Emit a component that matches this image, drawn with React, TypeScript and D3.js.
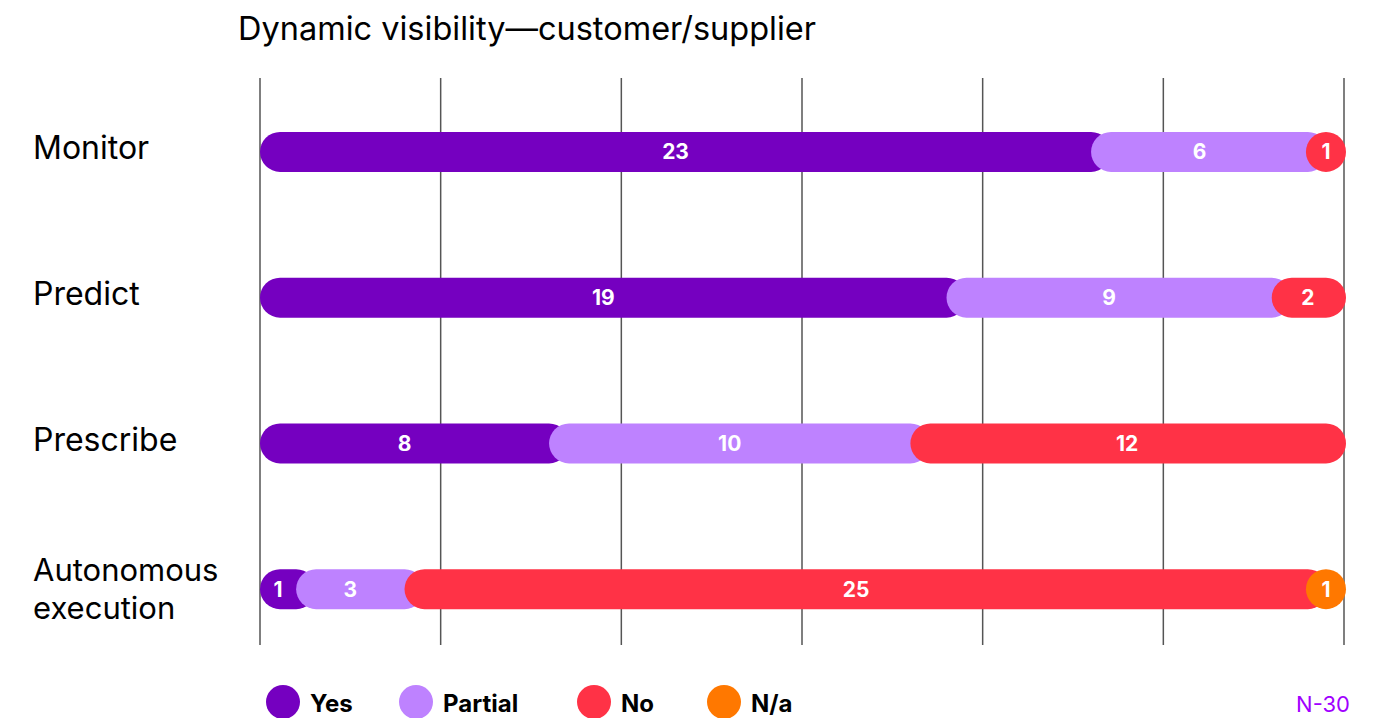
import React from "react";
import * as d3 from "d3";

const categories = ["Monitor", "Predict", "Prescribe", "Autonomous execution"];
const seriesNames = ["Yes", "Partial", "No", "N/a"];
const yesValues = [23, 19, 8, 1];
const partialValues = [6, 9, 10, 3];
const noValues = [1, 2, 12, 25];
const naValues = [0, 0, 0, 1];
const xTicks = [0, 5, 10, 15, 20, 25, 30];
const title = "Dynamic visibility\u2014customer/supplier";
const note = "N-30";

const colors = ["#7500c0", "#be82ff", "#ff3246", "#ff7800"];

const width = 1381;
const height = 718;
const barH = 40;
const r = barH / 2;
const font = "Inter, 'Noto Sans', sans-serif";

export default function App() {
    const x = d3.scaleLinear().domain([0, 30]).range([260, 1344]);
    const y = d3.scaleBand().domain(categories).range([79, 662]);

    const series = [yesValues, partialValues, noValues, naValues];

    const rows = categories.map((cat, i) => {
        let acc = 0;
        const segs = series.map((vals, s) => {
            const v = vals[i];
            const seg = {s, v, x0: x(acc), x1: x(acc + v)};
            acc += v;
            return seg;
        }).filter(d => d.v > 0);
        return {cat, segs};
    });

    const legendX = [283, 416, 594, 724];
    const lineGap = 38;

    return (
        <svg width={width} height={height} style={{position: "absolute", left: 0, top: 0}}>
            <rect width={width} height={height} fill="#fff"/>
            <text x={238} y={40} fontFamily={font} fontSize={32.5} fill="#000">{title}</text>

            {xTicks.map(t => (
                <line key={t} x1={x(t)} x2={x(t)} y1={78} y2={645} stroke="#555" strokeWidth={1.5}/>
            ))}

            {rows.map(row => {
                const cy = (y(row.cat) as number) + y.bandwidth() / 2;
                const lines = row.cat === "Autonomous execution" ? ["Autonomous", "execution"] : [row.cat];
                const ly = lines.length > 1 ? cy - lineGap / 2 : cy - 4;
                return (
                    <g key={row.cat}>
                        {lines.map((l, k) => (
                            <text key={l} x={33} y={ly + k * lineGap} dy="0.36em" fontFamily={font}
                                  fontSize={lines.length > 1 ? 31 : 32} fill="#000">{l}</text>
                        ))}
                        {row.segs.map((d, k) => {
                            const last = k === row.segs.length - 1;
                            let a = d.x0;
                            let b = last ? d.x1 + 2 : d.x1 + r;
                            if (b - a < barH) {
                                const c = (d.x0 + d.x1) / 2;
                                a = Math.min(a, c - r);
                                b = Math.max(b, c + r);
                            }
                            return (
                                <rect key={d.s} x={a} y={cy - r} width={b - a} height={barH} rx={r} ry={r}
                                      fill={colors[d.s]}/>
                            );
                        })}
                        {row.segs.map(d => (
                            <text key={"t" + d.s} x={(d.x0 + d.x1) / 2} y={cy} dy="0.36em" textAnchor="middle"
                                  fontFamily={font} fontWeight={700} fontSize={21} fill="#fff">{d.v}</text>
                        ))}
                    </g>
                );
            })}

            {seriesNames.map((n, i) => (
                <g key={n}>
                    <circle cx={legendX[i]} cy={702} r={17} fill={colors[i]}/>
                    <text x={legendX[i] + 27} y={703} dy="0.36em" fontFamily={font} fontWeight={700}
                          fontSize={24} fill="#000">{n}</text>
                </g>
            ))}
            <text x={1350} y={704} dy="0.36em" textAnchor="end" fontFamily={font} fontSize={22}
                  fill="#a100ff">{note}</text>
        </svg>
    );
}
